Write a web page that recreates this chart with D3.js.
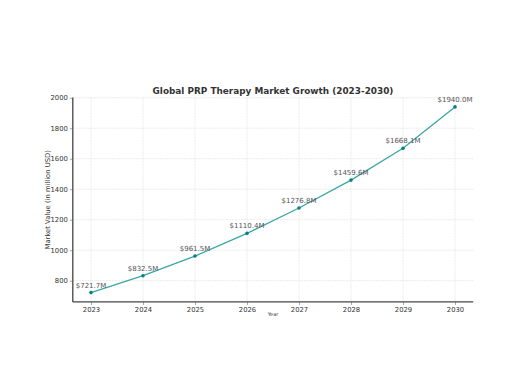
<!DOCTYPE html>
<html><head><meta charset="utf-8">
<script src="https://cdn.jsdelivr.net/npm/d3@7"></script>
<style>body{margin:0;background:#fff}svg{display:block}</style>
</head><body>
<script>
const years = [2023, 2024, 2025, 2026, 2027, 2028, 2029, 2030];
const values = [721.7, 832.5, 961.5, 1110.4, 1276.8, 1459.6, 1668.1, 1940.0];
const yTicks = [800, 1000, 1200, 1400, 1600, 1800, 2000];
const title = "Global PRP Therapy Market Growth (2023-2030)";
const xLabel = "Year";
const yLabel = "Market Value (in million USD)";

const W = 520, H = 390;
const m = {left: 72.8, right: 520 - 473.2, top: 97.6, bottom: 390 - 301.9};
const svg = d3.select("body").append("svg").attr("width", W).attr("height", H);
const font = "DejaVu Sans, sans-serif";

const x = d3.scaleLinear().domain([2023 - 0.35, 2030 + 0.35]).range([m.left, W - m.right]);
const y = d3.scaleLinear().domain([660.8, 2000.9]).range([H - m.bottom, m.top]);

const g = svg.append("g");
// grid
g.selectAll(".gx").data(years).enter().append("line")
  .attr("x1", d => x(d)).attr("x2", d => x(d)).attr("y1", m.top).attr("y2", H - m.bottom)
  .attr("stroke", "#e6e6e6").attr("stroke-width", 0.8).attr("stroke-dasharray", "2,1");
g.selectAll(".gy").data(yTicks).enter().append("line")
  .attr("x1", m.left).attr("x2", W - m.right).attr("y1", d => y(d)).attr("y2", d => y(d))
  .attr("stroke", "#e6e6e6").attr("stroke-width", 0.8).attr("stroke-dasharray", "2,1");

// axes
const xAxis = d3.axisBottom(x).tickValues(years).tickFormat(d3.format("d")).tickSize(3).tickPadding(2);
const yAxis = d3.axisLeft(y).tickValues(yTicks).tickFormat(d3.format("d")).tickSize(3).tickPadding(2);
const ax = svg.append("g").attr("transform", `translate(0,${H - m.bottom})`).call(xAxis);
const ay = svg.append("g").attr("transform", `translate(${m.left},0)`).call(yAxis);
[ax, ay].forEach(a => {
  a.select(".domain").attr("stroke", "#444").attr("stroke-width", 1.3);
  a.selectAll(".tick line").attr("stroke", "#666").attr("stroke-width", 0.6);
  a.selectAll(".tick text").attr("font-family", font).attr("font-size", 6.8).attr("fill", "#333");
});
ax.select(".domain").attr("d", `M${m.left},0H${W - m.right}`);
ay.select(".domain").attr("d", `M0,${H - m.bottom}V${m.top}`);

// line
const data = years.map((d, i) => ({year: d, value: values[i]}));
svg.append("path").datum(data)
  .attr("fill", "none").attr("stroke", "#3aa6a6").attr("stroke-width", 1.3)
  .attr("d", d3.line().x(d => x(d.year)).y(d => y(d.value)));
svg.selectAll(".pt").data(data).enter().append("circle")
  .attr("cx", d => x(d.year)).attr("cy", d => y(d.value)).attr("r", 1.8).attr("fill", "#0a7f7f");
svg.selectAll(".lbl").data(data).enter().append("text")
  .attr("x", d => x(d.year)).attr("y", d => y(d.value) - 5)
  .attr("text-anchor", "middle").attr("font-family", font).attr("font-size", 7).attr("fill", "#555")
  .text(d => "$" + d.value.toFixed(1) + "M");

// labels
svg.append("text").attr("x", (m.left + W - m.right) / 2).attr("y", 94)
  .attr("text-anchor", "middle").attr("font-family", font).attr("font-weight", "bold")
  .attr("font-size", 8.9).attr("fill", "#333").text(title);
svg.append("text").attr("x", 273).attr("y", 316)
  .attr("text-anchor", "middle").attr("font-family", font).attr("font-size", 5).attr("fill", "#333").text(xLabel);
svg.append("text").attr("transform", `translate(50,${(m.top + H - m.bottom) / 2}) rotate(-90)`)
  .attr("text-anchor", "middle").attr("font-family", font).attr("font-size", 6.8).attr("fill", "#333").text(yLabel);
</script>
</body></html>
